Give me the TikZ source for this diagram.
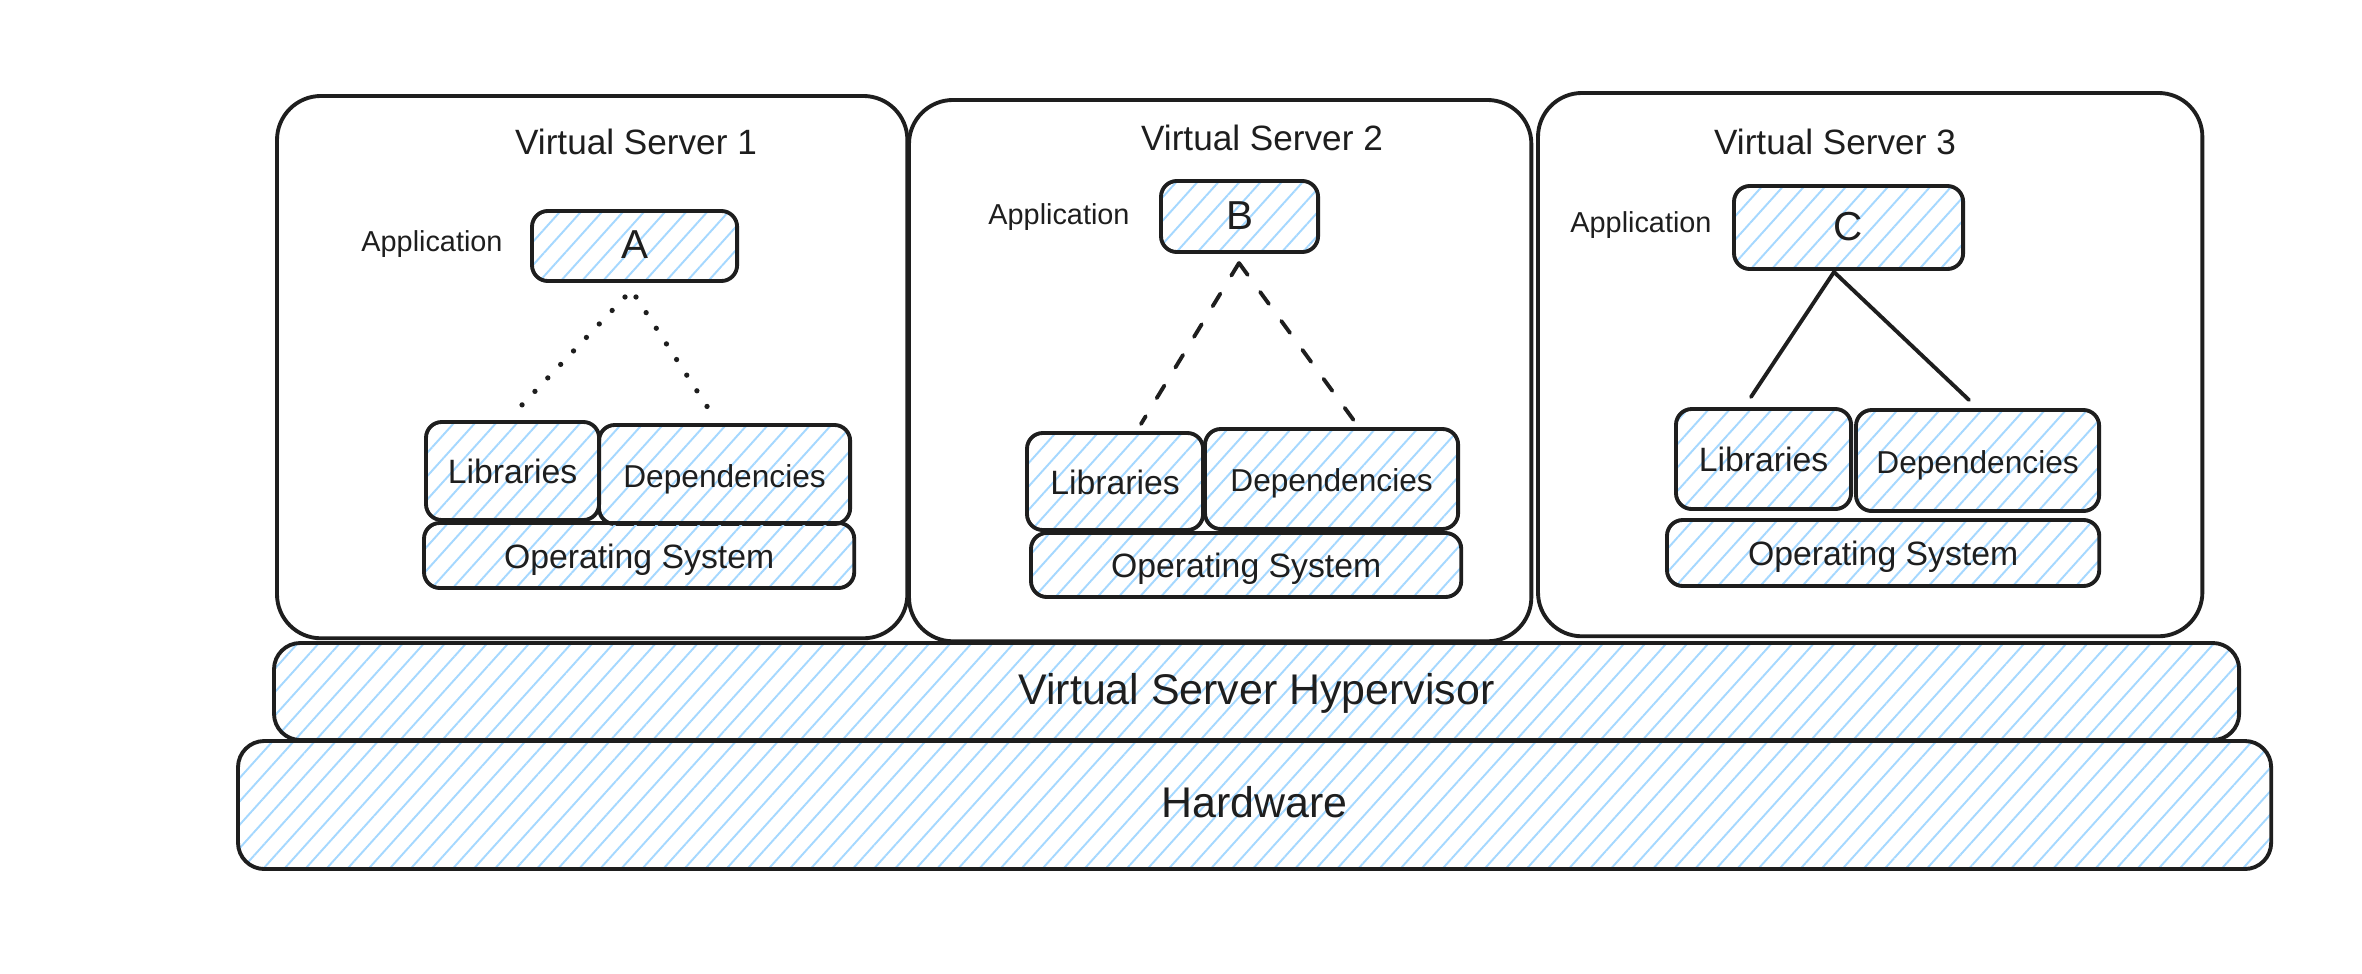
\documentclass[tikz,border=0pt]{standalone}
\usepackage{fontspec}
\setmainfont{Liberation Sans}
\usetikzlibrary{patterns.meta}
\definecolor{ink}{HTML}{1E1E1E}
\definecolor{hatch}{HTML}{A5D8FF}
\tikzset{
  base/.style={draw=ink, line width=1.1pt, anchor=north west, inner sep=0pt, outer sep=0pt, text=ink},
  hbox/.style={base, rounded corners=4.5pt, text height=0.72em, text depth=0pt, pattern={Lines[angle=48,distance=4.45pt,line width=0.55pt]}, pattern color=hatch},
  bigbox/.style={hbox, rounded corners=7.5pt},
  server/.style={base, rounded corners=12.5pt, fill=white},
  lbl/.style={text=ink, inner sep=0pt},
  titlefont/.style={font=\fontsize{10}{12}\selectfont},
  appfont/.style={font=\fontsize{8.2}{10}\selectfont},
  letterfont/.style={font=\fontsize{11.5}{13}\selectfont},
  libfont/.style={font=\fontsize{9.6}{11}\selectfont},
  depfont/.style={font=\fontsize{9.0}{11}\selectfont},
  osfont/.style={font=\fontsize{9.6}{11}\selectfont},
  layerfont/.style={font=\fontsize{12.2}{14}\selectfont},
  conn/.style={draw=ink, line width=1.1pt, line cap=round},
  dotconn/.style={conn, line width=1.5pt, dash pattern=on 0pt off 5.3pt},
  dashconn/.style={conn, dash pattern=on 4.2pt off 6pt},
}
\begin{document}
\begin{tikzpicture}[x=0.01cm, y=-0.01cm]
\useasboundingbox (0,0) rectangle (2362,974);

% layers
\node[bigbox, minimum width=20.32cm, minimum height=1.28cm, layerfont] (hw) at (238,741) {Hardware};
\node[bigbox, minimum width=19.64cm, minimum height=0.97cm, layerfont] (hyp) at (274,643) {Virtual Server Hypervisor};

% servers
\node[server, minimum width=6.30cm, minimum height=5.42cm] (s1) at (277,96) {};
\node[server, minimum width=6.22cm, minimum height=5.41cm] (s2) at (909,100) {};
\node[server, minimum width=6.64cm, minimum height=5.43cm] (s3) at (1538,93) {};

% titles
\node[lbl, titlefont] (t1) at (636,142) {Virtual Server 1};
\node[lbl, titlefont] (t2) at (1262,138) {Virtual Server 2};
\node[lbl, titlefont] (t3) at (1835,142) {Virtual Server 3};

% application labels
\node[lbl, appfont] (ap1) at (432,244) {Application};
\node[lbl, appfont] (ap2) at (1059,217) {Application};
\node[lbl, appfont] (ap3) at (1641,225) {Application};

% server 1
\node[hbox, minimum width=2.05cm, minimum height=0.70cm, letterfont] (A) at (532,211) {A};
\node[hbox, minimum width=1.73cm, minimum height=0.98cm, libfont] (L1) at (426,422) {Libraries};
\node[hbox, minimum width=2.51cm, minimum height=0.99cm, depfont] (D1) at (599,425) {Dependencies};
\node[hbox, minimum width=4.30cm, minimum height=0.65cm, osfont] (OS1) at (424,523) {Operating System};

% server 2
\node[hbox, minimum width=1.57cm, minimum height=0.71cm, letterfont] (B) at (1161,181) {B};
\node[hbox, minimum width=1.76cm, minimum height=0.97cm, libfont] (L2) at (1027,433) {Libraries};
\node[hbox, minimum width=2.53cm, minimum height=1.00cm, depfont] (D2) at (1205,429) {Dependencies};
\node[hbox, minimum width=4.30cm, minimum height=0.64cm, osfont] (OS2) at (1031,533) {Operating System};

% server 3
\node[hbox, minimum width=2.29cm, minimum height=0.83cm, letterfont] (C) at (1734,186) {C};
\node[hbox, minimum width=1.75cm, minimum height=1.00cm, libfont] (L3) at (1676,409) {Libraries};
\node[hbox, minimum width=2.43cm, minimum height=1.01cm, depfont] (D3) at (1856,410) {Dependencies};
\node[hbox, minimum width=4.32cm, minimum height=0.66cm, osfont] (OS3) at (1667,520) {Operating System};

% connector end points
\coordinate (p1l) at (625,297);
\coordinate (p1r) at (636,297);
\coordinate (e1l) at (521,406);
\coordinate (e1r) at (710,411);
\coordinate (p2) at (1239,263);
\coordinate (e2l) at (1141,424);
\coordinate (e2r) at (1355,422);
\coordinate (p3) at (1834,272);
\coordinate (e3l) at (1751,397);
\coordinate (e3r) at (1969,400);

\draw[dotconn] (p1l) -- (e1l);
\draw[dotconn] (p1r) -- (e1r);
\draw[dashconn] (p2) -- (e2l);
\draw[dashconn] (p2) -- (e2r);
\draw[conn] (e3l) -- (p3) -- (e3r);
\end{tikzpicture}
\end{document}
